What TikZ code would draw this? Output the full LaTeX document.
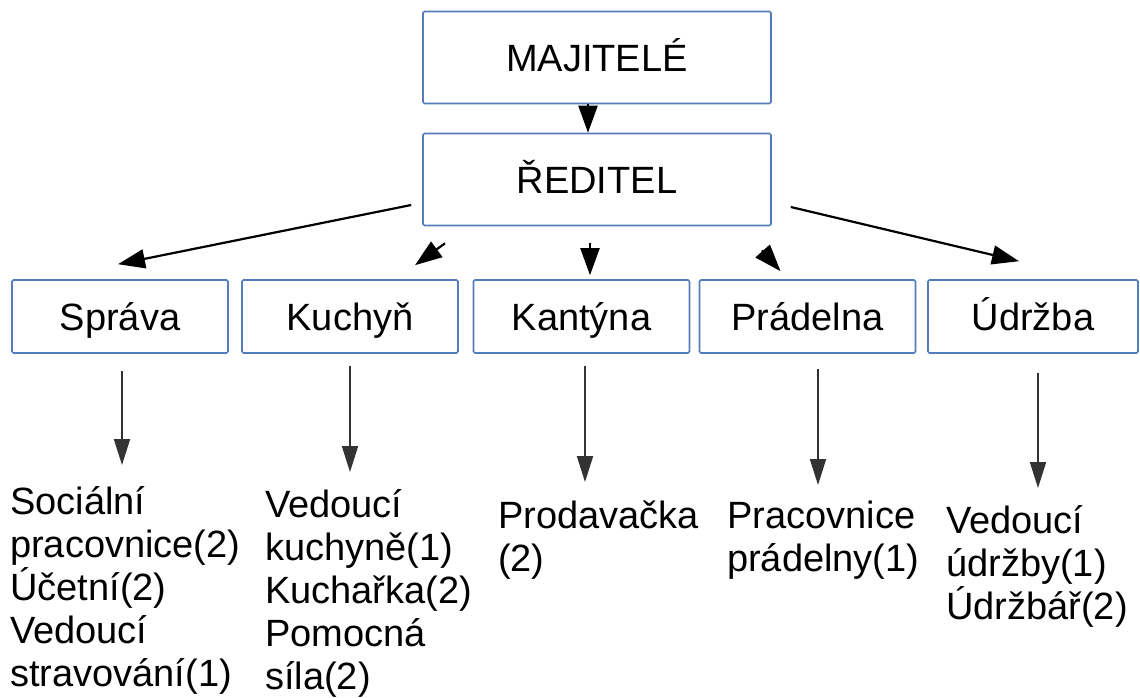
\documentclass[tikz,border=0pt]{standalone}
\usepackage{fontspec}
\setmainfont{Liberation Sans}
\usetikzlibrary{arrows.meta,calc}
\definecolor{boxblue}{RGB}{84,124,186}
\begin{document}
\begin{tikzpicture}[x=1pt,y=-1pt,
  every node/.style={font=\fontsize{38}{43}\selectfont},
  unitbox/.style={draw=boxblue, line width=1.6pt, rounded corners=1.5pt,
    minimum width=216pt, minimum height=73pt, inner sep=0pt,
    text height=32pt, text depth=5pt},
  headbox/.style={unitbox, minimum width=348pt, minimum height=92pt},
  staff/.style={anchor=north west, align=left, inner sep=0pt,
    execute at begin node={\rule{0pt}{40pt}}},
  link/.style={line width=2.2pt, -{Triangle[length=27pt,width=19pt]}},
  drop/.style={line width=2pt, draw=black!80, shorten >=6pt,
    -{Triangle[length=26pt,width=16pt]}}
]
\useasboundingbox (0,0) rectangle (1140,697);

% management
\node[headbox] (maj) at (597,57.5) {MAJITELÉ};
\node[headbox] (red) at (597,179.5) {ŘEDITEL};

% departments
\node[unitbox] (sprava)   at (120,316.5)  {Správa};
\node[unitbox] (kuchyn)   at (350,316.5)  {Kuchyň};
\node[unitbox] (kantyna)  at (581.5,316.5) {Kantýna};
\node[unitbox] (pradelna) at (807.5,316.5) {Prádelna};
\node[unitbox, minimum width=210pt] (udrzba) at (1033,316.5) {Údržba};

% staff of each department
\node[staff] (ssprava) at (10,486)
  {Sociální\\pracovnice(2)\\Účetní(2)\\Vedoucí\\stravování(1)};
\node[staff] (skuchyn) at (265,489)
  {Vedoucí\\kuchyně(1)\\Kuchařka(2)\\Pomocná\\síla(2)};
\node[staff] (skantyna) at (498,501) {Prodavačka\\(2)};
\node[staff] (spradelna) at (727,501) {Pracovnice\\prádelny(1)};
\node[staff] (sudrzba) at (946,505) {Vedoucí\\údržby(1)\\Údržbář(2)};

% chain of command
\draw[link] ($(maj.south)+(-9,0)$) -- ($(red.north)+(-9,0)$);
\draw[link] ($(red.west)+(-11,25.5)$) -- ($(sprava.north)+(-2,-15)$);
\draw[link] ($(red.south)+(-152,17)$) -- ($(kuchyn.north)+(65,-14)$);
\draw[link] ($(red.south)+(-7,17)$) -- ($(kantyna.north)+(8.5,-4)$);
\draw[link] ($(red.south)+(165,24)$) -- ($(pradelna.north)+(-27,-8)$);
\draw[link] ($(red.east)+(19,27.5)$) -- ($(udrzba.north)+(-14,-18)$);

% department to staff
\coordinate (d1) at ($(sprava.south)+(2,0)$);
\coordinate (d2) at ($(kuchyn.south)+(0,0)$);
\coordinate (d3) at ($(kantyna.south)+(3.5,0)$);
\coordinate (d4) at ($(pradelna.south)+(10.5,0)$);
\coordinate (d5) at ($(udrzba.south)+(5,0)$);
\draw[drop, shorten >=21pt] ($(d1)+(0,17)$) -- (d1 |- ssprava.north);
\draw[drop, shorten >=17pt] ($(d2)+(0,12)$) -- (d2 |- skuchyn.north);
\draw[drop, shorten >=19pt] ($(d3)+(0,12)$) -- (d3 |- skantyna.north);
\draw[drop, shorten >=16pt] ($(d4)+(0,15)$) -- (d4 |- spradelna.north);
\draw[drop, shorten >=17pt] ($(d5)+(0,19)$) -- (d5 |- sudrzba.north);
\end{tikzpicture}
\end{document}
